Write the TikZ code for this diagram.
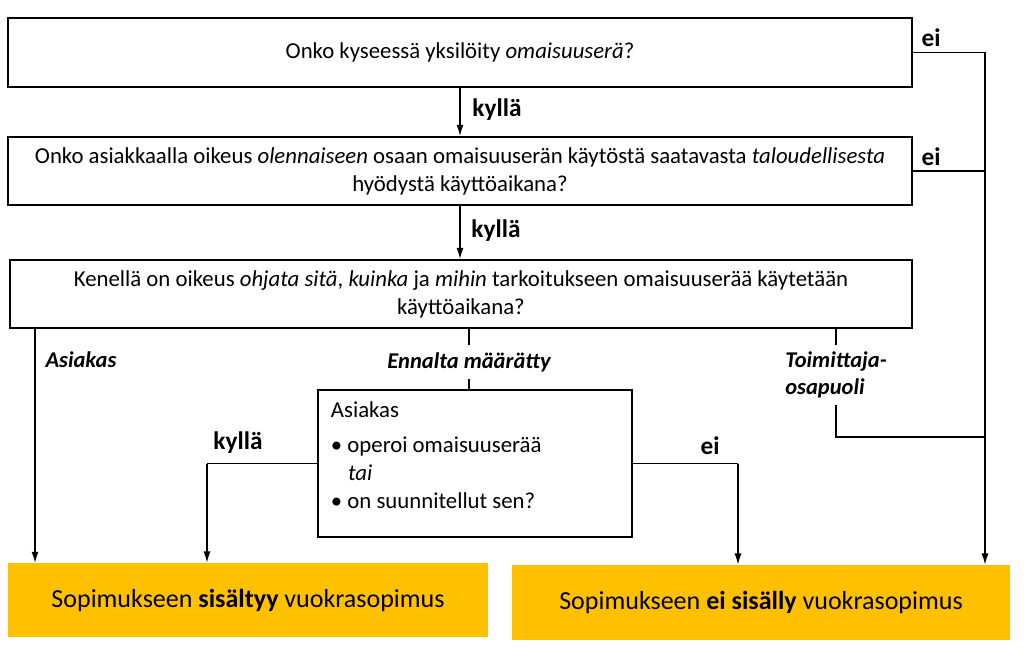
\documentclass[tikz,border=0pt]{standalone}
\usepackage{fontspec}
\setmainfont{Carlito}
\usepackage{tikz}
\usetikzlibrary{arrows.meta}
\definecolor{vuokra}{HTML}{FFC000}

\tikzset{
  qbox/.style={draw, line width=1.3pt, fill=white, align=center,
               font=\fontsize{16.2}{20}\selectfont},
  rbox/.style={fill=vuokra, align=center, font=\fontsize{18.5}{22}\selectfont},
  arr/.style={line width=1pt, -{Latex[length=8pt,width=5pt]}},
  ln/.style={line width=1pt},
  lbl/.style={font=\fontsize{18}{21}\selectfont\bfseries},
  lbli/.style={font=\fontsize{16}{19}\selectfont\bfseries\itshape, inner sep=5pt}
}

\begin{document}
\begin{tikzpicture}[x=0.025cm, y=-0.025cm]
        \useasboundingbox (0,0) rectangle (1024,655);                 %
        \node [qbox, minimum width=22.6cm, minimum height=1.725cm] (q1) at (460,52.5)
              {Onko kyseessä yksilöity \textit{omaisuuserä}?};        %Q1
        \node [qbox, minimum width=22.6cm, minimum height=1.7cm] (q2) at (460,171)
              {Onko asiakkaalla oikeus \textit{olennaiseen} osaan omaisuuserän käytöstä saatavasta \textit{taloudellisesta}\\
               hyödystä käyttöaikana?};                                %Q2
        \node [qbox, minimum width=22.55cm, minimum height=1.7cm] (q3) at (461,294)
              {Kenellä on oikeus \textit{ohjata sitä}, \textit{kuinka} ja \textit{mihin} tarkoitukseen omaisuuserää käytetään\\
               käyttöaikana?};                                          %Q3
        \node [qbox, align=flush left, text width=7.2cm,
               minimum width=7.85cm, minimum height=3.675cm] (q4) at (475,463.5)
              {Asiakas\\[5pt]
               \textbullet\ operoi omaisuuserää\\
               \hspace{0.75em}\textit{tai}\\
               \textbullet\ on suunnitellut sen?\\[-8pt]\mbox{}};       %Q4
        \node [rbox, minimum width=12cm, minimum height=1.85cm] (r1) at (248,600)
              {Sopimukseen \textbf{sisältyy} vuokrasopimus};            %YES
        \node [rbox, minimum width=12.45cm, minimum height=1.875cm] (r2) at (761,602.5)
              {Sopimukseen \textbf{ei sisälly} vuokrasopimus};          %NO

        \coordinate (c1) at (985,52.5);                               %
        \coordinate (c2) at (985,171);                                %
        \coordinate (c3) at (985,437);                                %
        \coordinate (c4) at (207,463.5);                              %
        \coordinate (c5) at (738,463.5);                              %

        \draw [arr] (q1) -- (q2);                                     %
        \node [lbl] (k1) at (497,110) {kyllä};                        %
        \draw [arr] (q2.south) -- (q2.south |- q3.north);             %
        \node [lbl] (k2) at (496,231) {kyllä};                        %

        \draw [ln]  (q1.east) -- (c1);                                %
        \draw [arr] (c1) -- (c1 |- r2.north);                         %
        \node [lbl] (e1) at (931,38) {ei};                            %
        \draw [ln]  (q2.east) -- (c2);                                %
        \node [lbl] (e2) at (931,157) {ei};                           %

        \draw [arr] (35,328) -- (35,563);                             %Asiakas
        \node [lbli] (la) at (81,360) {Asiakas};                      %
        \node [lbli] (le) at (469,362) {Ennalta määrätty};            %
        \draw [ln]  (le.north |- q3.south) -- (le.north);             %
        \draw [ln]  (le.south) -- (le.south |- q4.north);             %
        \node [lbli, align=left] (lt) at (836,375) {Toimittaja-\\osapuoli};
        \draw [ln]  (lt.north |- q3.south) -- (lt.north);             %
        \draw [ln]  (lt.south) -- (lt.south |- c3) -- (c3);           %

        \draw [ln]  (q4.west) -- (c4);                                %
        \draw [arr] (c4) -- (c4 |- r1.north);                         %
        \node [lbl] (k3) at (238,443) {kyllä};                        %
        \draw [ln]  (q4.east) -- (c5);                                %
        \draw [arr] (c5) -- (c5 |- r2.north);                         %
        \node [lbl] (e3) at (710,446) {ei};                           %
\end{tikzpicture}
\end{document}
